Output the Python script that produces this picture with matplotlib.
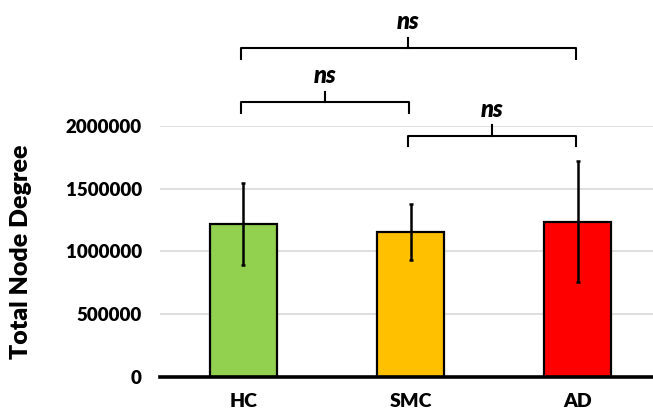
import matplotlib.pyplot as plt

# data
groups = ['HC', 'SMC', 'AD']
means = [1220000, 1157000, 1237000]
errs = [325000, 223000, 485000]
colors = ['#92d050', '#ffc000', '#ff0000']

# significance brackets: (left group, right group, label)
pairs = [(0, 2, 'ns'), (0, 1, 'ns'), (1, 2, 'ns')]
bracket_y = [2621000, 2190000, 1923000]

plt.rcParams['font.family'] = ['Lato', 'DejaVu Sans']

fig = plt.figure(figsize=(6.53, 4.16), dpi=100)
ax = fig.add_axes([0.245, 0.0945, 0.7673, 0.6025])

x = range(len(groups))
ax.bar(x, means, width=0.4, color=colors, edgecolor='black', linewidth=1.6, zorder=3)
ax.errorbar(x, means, yerr=errs, fmt='none', ecolor='black', elinewidth=1.8,
            capsize=1.5, capthick=1.8, zorder=4)

ax.set_xlim(-0.5, 2.5)
ax.set_ylim(0, 2000000)
ax.set_yticks([0, 500000, 1000000, 1500000, 2000000])
ax.set_yticklabels(['0', '500000', '1000000', '1500000', '2000000'], fontsize=13.5, fontweight='heavy')
ax.set_xticks(list(x))
ax.set_xticklabels(groups, fontsize=14, fontweight='heavy')
ax.tick_params(axis='y', length=0, pad=13)
ax.tick_params(axis='x', length=0, pad=12)
ax.grid(axis='y', color='#d9d9d9', linewidth=1.2, zorder=0)
ax.set_axisbelow(True)
for s in ['top', 'right', 'left']:
    ax.spines[s].set_visible(False)
ax.spines['bottom'].set_linewidth(2.6)
ax.spines['bottom'].set_zorder(5)

ax.set_ylabel('Total Node Degree', fontsize=18, fontweight='heavy')
ax.yaxis.set_label_coords(-0.255, 0.5)

# brackets
drop = 85000
tip = 85000
for (a, b, lab), yb in zip(pairs, bracket_y):
    xa, xb = a - 0.015, b - 0.01
    xm = (xa + xb) / 2
    ax.plot([xa, xa, xb, xb], [yb - drop, yb, yb, yb - drop], color='black',
            linewidth=1.5, clip_on=False, zorder=6)
    ax.plot([xm, xm], [yb, yb + tip], color='black', linewidth=1.5, clip_on=False, zorder=6)
    ax.text(xm, yb + tip + 35000, lab, ha='center', va='bottom', fontsize=17,
            fontweight='heavy', fontstyle='italic', clip_on=False)

plt.savefig('out.png', dpi=100)
